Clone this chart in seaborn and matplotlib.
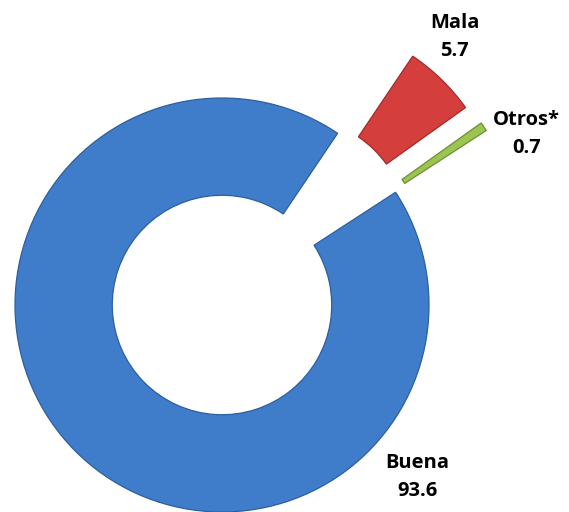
import numpy as np
import matplotlib.pyplot as plt
import seaborn as sns

# data
categorias = ['Buena', 'Mala', 'Otros*']
valores = [93.6, 5.7, 0.7]
colores = ['#3F7CC9', '#D43F3D', '#9CC451']
bordes = ['#2E5F9E', '#A02C2A', '#6E8F35']

sns.set_theme(style='white')
plt.rcParams['font.family'] = ['Open Sans', 'DejaVu Sans']

fig = plt.figure(figsize=(5.69, 5.12), dpi=100)
ax = fig.add_axes([0, 0, 1, 1])

wedges, _ = ax.pie(valores, colors=colores, startangle=33, counterclock=False,
                   explode=[0, 0.52, 0.53], radius=1,
                   wedgeprops=dict(width=0.47, linewidth=0.9))
for w, b in zip(wedges, bordes):
    w.set_edgecolor(b)

# label positions (axis units, radius = 1)
pos_etiquetas = {'Buena': (0.945, -0.83), 'Mala': (1.125, 1.295), 'Otros*': (1.47, 0.825)}
for cat, val in zip(categorias, valores):
    x, y = pos_etiquetas[cat]
    ax.text(x, y, f'{cat}\n{val}', ha='center', va='center', fontsize=14.5,
            fontweight='bold', color='black', linespacing=1.5)

ax.set_xlim(-222 / 207, (569 - 222) / 207)
ax.set_ylim(-(512 - 305) / 207, 305 / 207)
ax.axis('off')

fig.savefig('out.png', dpi=100)
plt.close()
